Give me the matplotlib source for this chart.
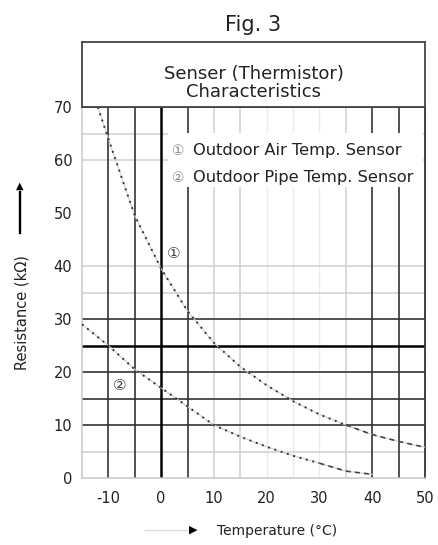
import matplotlib
matplotlib.use("Agg")
import matplotlib.pyplot as plt
from matplotlib.patches import Rectangle

plt.rcParams["font.family"] = ["DejaVu Sans", "Noto Sans CJK JP"]
plt.rcParams["axes.unicode_minus"] = False

# thermistor curves, resistance (kOhm) vs temperature (C)
air_temp = [-12, -10, -5, 0, 5, 10, 15, 20, 25, 30, 35, 40, 45, 50]
air_res = [70, 64, 49.5, 39.5, 31.5, 25.5, 21, 17.5, 14.5, 12, 10, 8.2, 6.9, 5.8]
pipe_temp = [-15, -10, -5, 0, 5, 10, 15, 20, 25, 30, 35, 40]
pipe_res = [29, 25, 20.5, 17, 13.5, 10, 7.8, 5.9, 4.2, 2.8, 1.3, 0.7]

legend_labels = ["Outdoor Air Temp. Sensor", "Outdoor Pipe Temp. Sensor"]
x_ticks = [-10, 0, 10, 20, 30, 40, 50]
y_ticks = [0, 10, 20, 30, 40, 50, 60, 70]

# grid lines
dark_x = [-10, -5, 5, 40, 45]
light_x = [10, 15, 35]
faint_x = [20, 25, 30]
dark_y = [10, 15, 20, 30]
light_y = [5, 35, 40, 60, 65]

fig = plt.figure(figsize=(4.38, 5.45), dpi=100)
ax = fig.add_axes([0.1872, 0.1229, 0.7831, 0.6807])
head = fig.add_axes([0.1872, 0.8037, 0.7831, 0.1193])

for x in faint_x:
    ax.axvline(x, color="#ececec", lw=1.0, zorder=1)
for x in light_x:
    ax.axvline(x, color="#cfcfcf", lw=1.1, zorder=1)
for y in light_y:
    ax.axhline(y, color="#cfcfcf", lw=1.1, zorder=1)
for x in dark_x:
    ax.axvline(x, color="#333333", lw=1.2, zorder=2)
for y in dark_y:
    ax.axhline(y, color="#333333", lw=1.2, zorder=2)
ax.axvline(0, color="black", lw=1.8, zorder=2)
ax.axhline(25, color="black", lw=1.8, zorder=2)

# curves: faint line under dotted marks, dashed near the tail
for t, r, cut in [(air_temp, air_res, 10), (pipe_temp, pipe_res, 9)]:
    ax.plot(t, r, color="#d0d0d0", lw=0.8, zorder=3)
    ax.plot(t[:cut + 1], r[:cut + 1], color="#333333", lw=1.4,
            linestyle=(0, (1, 2.4)), zorder=4)
    ax.plot(t[cut:], r[cut:], color="#444444", lw=1.2,
            linestyle=(0, (3, 2.5)), zorder=4)

ax.text(2.3, 42.4, "①", fontsize=11, color="#444444", ha="center", va="center", zorder=5)
ax.text(-7.8, 17.5, "②", fontsize=11, color="#444444", ha="center", va="center", zorder=5)

# legend panel over the grid
ax.add_patch(Rectangle((1.3, 54.9), 48.4, 10.2, facecolor="white",
                       edgecolor="none", zorder=5))
for i, (mark, label) in enumerate(zip(["①", "②"], legend_labels)):
    yb = 60.9 - i * 5.1
    ax.text(2.1, yb, mark, fontsize=10, color="#888888", va="baseline", zorder=6)
    ax.text(6.1, yb, label, fontsize=11.7, color="#222222", va="baseline", zorder=6)

ax.set_xlim(-15, 50)
ax.set_ylim(0, 70)
ax.set_xticks(x_ticks)
ax.set_yticks(y_ticks)
ax.tick_params(length=0, labelsize=10.5, colors="#222222")
ax.tick_params(axis="x", pad=9)
ax.tick_params(axis="y", pad=7)
for side in ["left", "bottom"]:
    ax.spines[side].set_color("#c8c8c8")
    ax.spines[side].set_linewidth(1.1)
for side in ["top", "right"]:
    ax.spines[side].set_color("#333333")
    ax.spines[side].set_linewidth(1.3)

# header box
head.set_xticks([])
head.set_yticks([])
for s in head.spines.values():
    s.set_color("#444444")
    s.set_linewidth(1.3)
head.text(0.5, 0.43, "Senser (Thermistor)", fontsize=13, ha="center",
          va="baseline", color="#222222", transform=head.transAxes)
head.text(0.5, 0.15, "Characteristics", fontsize=13, ha="center",
          va="baseline", color="#222222", transform=head.transAxes)

fig.text(0.578, 0.943, "Fig. 3", fontsize=15, ha="center", va="baseline", color="#222222")

# axis labels with arrows
fig.text(0.05, 0.427, "Resistance (k\u03a9)", rotation=90, fontsize=10.5,
         ha="center", va="center", color="#222222")
fig.add_artist(plt.Line2D([0.0457, 0.0457], [0.5725, 0.648], color="black", lw=1.7))
fig.text(0.0457, 0.66, "\u25b2", fontsize=7, ha="center", va="center", color="black")

fig.text(0.495, 0.026, "Temperature (\u00b0C)", fontsize=10, ha="left",
         va="center", color="#222222")
fig.add_artist(plt.Line2D([0.331, 0.43], [0.0275, 0.0275], color="#dddddd", lw=1.0))
fig.text(0.44, 0.0275, "\u25b6", fontsize=8, ha="center", va="center", color="black")

fig.savefig("out.png", dpi=100)
